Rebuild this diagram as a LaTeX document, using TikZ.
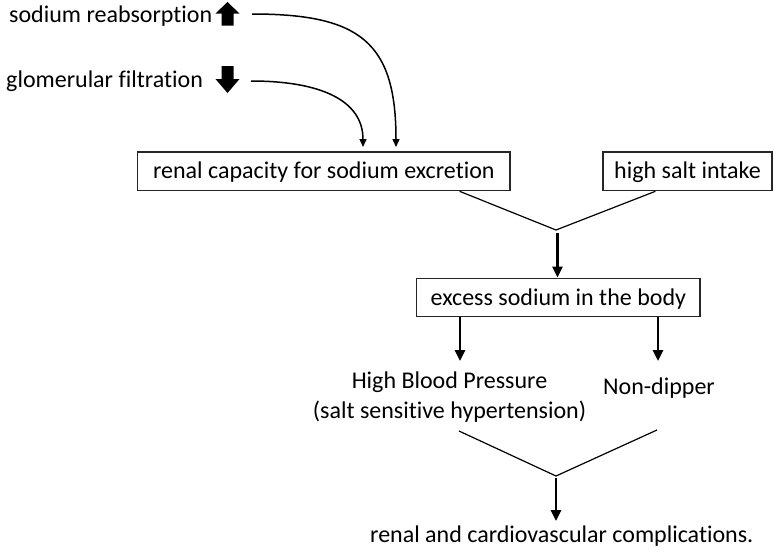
\documentclass[tikz,border=0pt]{standalone}
\usepackage{fontspec}
\setmainfont{Carlito}[Ligatures=NoCommon]
\usetikzlibrary{arrows.meta,calc}
\begin{document}
\begin{tikzpicture}[x=1pt,y=-1pt,
  every node/.style={font=\fontsize{24}{30}\selectfont, inner sep=0pt},
  box/.style={draw=black!85, line width=1.2pt, text height=16pt, text depth=1pt, minimum height=38.7pt},
  lbl/.style={},
  thin/.style={line width=1.2pt, black},
  thick/.style={line width=2.6pt, black, -{Triangle[length=11pt,width=10pt]}},
  curvearr/.style={line width=1.5pt, black, -{Triangle[length=8pt,width=7pt]}},
  blockarr/.style={fill=black}
]
\useasboundingbox (0,0) rectangle (774,555);

% top labels
\node[lbl, anchor=base west] (sod) at (9,22.7) {sodium reabsorption};
\node[lbl, anchor=base west] (glo) at (6,87) {glomerular filtration};

% block arrows
\fill[blockarr] (227.5,2) -- (239.5,13.5) -- (233.5,13.5) -- (233.5,25.5) -- (221.5,25.5) -- (221.5,13.5) -- (215.5,13.5) -- cycle;
\fill[blockarr] (227.5,93) -- (239.5,79) -- (233.5,79) -- (233.5,66) -- (221.5,66) -- (221.5,79) -- (215.5,79) -- cycle;

% boxes
\node[box, minimum width=372.3pt] (renal) at (323.85,171.35) {renal capacity for sodium excretion};
\node[box, minimum width=169pt] (salt) at (687.5,171.35) {high salt intake};
\node[box, minimum width=283.3pt] (excess) at (558.35,297.5) {excess sodium in the body};

% outcome labels
\node[lbl, anchor=base, align=center] (hbp) at (449.5,418) {High Blood Pressure\\(salt sensitive hypertension)};
\node[lbl, anchor=base] (nondip) at (659,394) {Non-dipper};
\node[lbl, anchor=base west] (compl) at (370,542) {renal and cardiovascular complications.};

% curved arrows
\coordinate (sodend) at (252,14);
\coordinate (gloend) at (251,81);
\draw[curvearr] (sodend) .. controls (360,14) and (396,42) .. (396,147);
\draw[curvearr] (gloend) .. controls (320,81) and (363,100) .. (363,147);

% first junction
\coordinate (j1) at (556,230);
\draw[thin] ($(renal.south east)+(-51,0)$) -- (j1);
\draw[thin] ($(salt.south west)+(53,0)$) -- (j1);
\draw[thick] (557.5,233) -- (excess.north -| 557.5,0);

% from excess
\coordinate (hbptip) at (460,361);
\coordinate (ndtip) at (658,361);
\draw[thick] (excess.south -| hbptip) -- (hbptip);
\draw[thick] (excess.south -| ndtip) -- (ndtip);

% second junction
\coordinate (j2) at (556,476);
\coordinate (hbpout) at (459,431);
\coordinate (ndout) at (657,430);
\draw[thin] (hbpout) -- (j2);
\draw[thin] (ndout) -- (j2);
\coordinate (compltop) at (556,521);
\draw[thick] (556,478) -- (compltop);
\end{tikzpicture}
\end{document}
